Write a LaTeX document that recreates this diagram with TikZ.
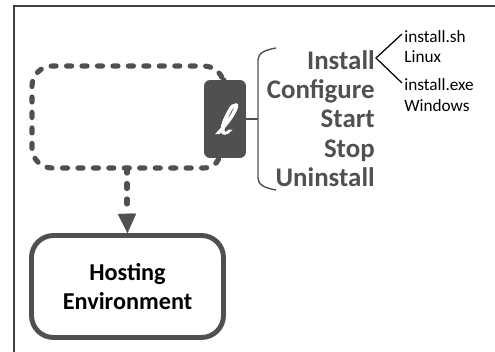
\documentclass[tikz,border=0pt]{standalone}
\usepackage{fontspec}
\setmainfont{Carlito}
\newfontfamily\ellfont[FakeBold=2.5, FakeSlant=0.25]{DejaVu Sans}
\usetikzlibrary{arrows.meta,positioning}
\definecolor{darkgrey}{HTML}{505050}
\tikzset{
    action/.style={anchor=base east, inner sep=0pt, text=darkgrey, font=\fontsize{15.3}{15.3}\selectfont\bfseries},
    detail/.style={anchor=base west, inner sep=0pt, font=\fontsize{9.8}{10}\selectfont, text=black},
    loopline/.style={darkgrey, line width=2.9pt, line cap=round, dash pattern=on 2.9pt off 5.9pt},
}
\begin{document}
\begin{tikzpicture}[x=0.02cm, y=-0.02cm]
    \useasboundingbox (0,0) rectangle (495,352);

    % Frame
    \draw[black!75, line width=0.8pt] (14,352) -- (14,6) -- (495,6);

    %% Hosting environment
    \node[draw=darkgrey, line width=2.8pt, rounded corners=12.5pt, minimum width=3.84cm, minimum height=2.04cm, align=center,
        font=\fontsize{13.8}{16.5}\selectfont\bfseries] (host) at (127.5,286.5) {Hosting\\Environment};

    %% Lifecycle port
    \node[fill=darkgrey, rounded corners=3.5pt, minimum width=0.84cm, minimum height=1.56cm, inner sep=0pt, text=white,
        font=\fontsize{23}{23}\ellfont] (port) at (225,119) {ℓ};

    % Component outline
    \coordinate (topend) at (224,80);
    \coordinate (botend) at (222,160);
    \coordinate (drop) at (127,168);
    \coordinate (droptip) at (127,213);
    \draw[loopline, rounded corners=11.5pt] (topend) -- (224,66) -- (32,66) -- (32,168) -- (224,168) -- (botend);
    \draw[loopline] (drop) -- (droptip);
    \draw[darkgrey, -{Triangle[length=11pt, width=10.5pt]}, line width=0.1pt] (droptip) -- (host.north);

    %% Operations
    \coordinate (brace) at (258,119);
    \draw[darkgrey, line width=0.8pt] (port.east) -- (brace);
    \draw[darkgrey, line width=0.8pt] (276,48) .. controls (265,50) and (258,53) .. (258,60) -- (258,178)
        .. controls (258,185) and (265,188) .. (276,190);

    \node[action] (install) at (375,69) {Install};
    \node[action] (configure) at (375,98) {Configure};
    \node[action] (start) at (375,127) {Start};
    \node[action] (stop) at (375,157) {Stop};
    \node[action] (uninstall) at (375,186) {Uninstall};

    %% Installers
    \node[detail] (sh) at (404,42) {install.sh};
    \node[detail] (linux) at (404,62) {Linux};
    \node[detail] (exe) at (404,90) {install.exe};
    \node[detail] (windows) at (404,111) {Windows};

    % Branches
    \coordinate (apex) at (376,58);
    \coordinate (shend) at (402,34);
    \coordinate (exeend) at (402,83);
    \draw[black, line width=0.7pt] (shend) -- (apex) -- (exeend);
\end{tikzpicture}
\end{document}
